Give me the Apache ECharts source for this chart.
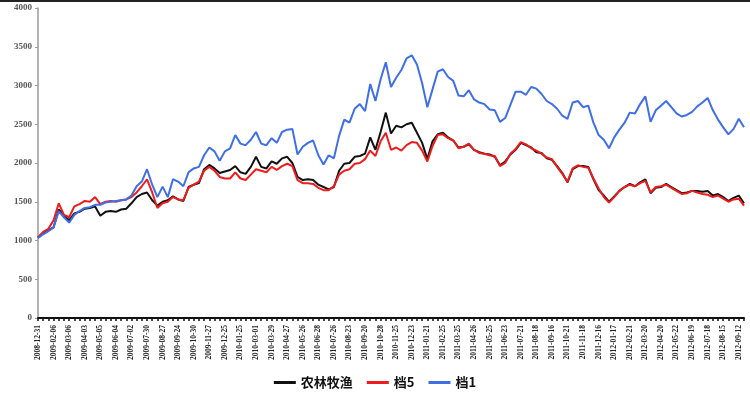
<!DOCTYPE html>
<html>
<head>
<meta charset="utf-8">
<title>农林牧渔 档5 档1</title>
<script src="https://cdn.jsdelivr.net/npm/echarts@6/dist/echarts.min.js"></script>
<style>
    html, body { margin: 0; padding: 0; background: #fff; }
    #main { width: 750px; height: 399px; }
</style>
</head>
<body>
<div id="main"></div>
<script>
// x轴刻度日期（每个刻度之间有两个中间点）
const tickDates = [
    '2008-12-31', '2009-02-06', '2009-03-06', '2009-04-03', '2009-05-05', '2009-06-04',
    '2009-07-02', '2009-07-30', '2009-08-27', '2009-09-24', '2009-10-30', '2009-11-27',
    '2009-12-25', '2010-01-25', '2010-03-01', '2010-03-29', '2010-04-27', '2010-05-26',
    '2010-06-28', '2010-07-26', '2010-08-23', '2010-09-20', '2010-10-28', '2010-11-25',
    '2010-12-23', '2011-01-21', '2011-02-25', '2011-03-25', '2011-04-26', '2011-05-25',
    '2011-06-23', '2011-07-21', '2011-08-18', '2011-09-16', '2011-10-21', '2011-11-18',
    '2011-12-16', '2012-01-17', '2012-02-21', '2012-03-20', '2012-04-20', '2012-05-22',
    '2012-06-19', '2012-07-18', '2012-08-15', '2012-09-12'
]

const yTicks = [0, 500, 1000, 1500, 2000, 2500, 3000, 3500, 4000]

// 农林牧渔
const nlmy = [
    1040, 1100, 1130, 1170, 1400, 1320, 1260, 1350, 1370, 1410, 1420, 1440,
    1320, 1370, 1380, 1370, 1400, 1410, 1480, 1560, 1600, 1620, 1520, 1450,
    1500, 1520, 1570, 1530, 1510, 1690, 1720, 1740, 1920, 1975, 1930, 1870,
    1890, 1910, 1960, 1880, 1860, 1950, 2080, 1950, 1930, 2020, 1990, 2060,
    2080, 2000, 1820, 1780, 1790, 1780, 1720, 1690, 1660, 1690, 1900, 1990,
    2000, 2080, 2090, 2120, 2330, 2170, 2400, 2650, 2380, 2480, 2460, 2500,
    2520, 2390, 2260, 2050, 2280, 2370, 2390, 2330, 2290, 2200, 2210, 2240,
    2170, 2140, 2120, 2110, 2080, 1970, 2020, 2110, 2170, 2260, 2230, 2200,
    2140, 2130, 2060, 2040, 1960, 1870, 1750, 1920, 1960, 1960, 1950, 1790,
    1650, 1580, 1500, 1570, 1640, 1690, 1730, 1700, 1750, 1790, 1610, 1680,
    1690, 1730, 1690, 1650, 1610, 1620, 1640, 1640, 1630, 1640, 1580, 1600,
    1560, 1510, 1550, 1580, 1480
]

// 档5
const dang5 = [
    1040, 1110, 1150, 1260, 1480, 1330, 1300, 1440, 1470, 1510, 1500, 1560,
    1470, 1500, 1510, 1500, 1520, 1530, 1560, 1620, 1700, 1790, 1620, 1420,
    1480, 1500, 1560, 1530, 1520, 1680, 1720, 1760, 1900, 1950, 1900, 1820,
    1800, 1800, 1880, 1800, 1780, 1850, 1920, 1900, 1880, 1950, 1910, 1960,
    1990, 1960, 1780, 1740, 1740, 1730, 1680, 1650, 1650, 1700, 1850, 1900,
    1920, 1990, 2000, 2050, 2160, 2090, 2280, 2390, 2170, 2200, 2160, 2230,
    2270, 2260, 2160, 2020, 2220, 2360, 2370, 2320, 2290, 2190, 2210, 2250,
    2170, 2130, 2120, 2100, 2090, 1960, 2000, 2120, 2180, 2270, 2240, 2190,
    2160, 2120, 2070, 2050, 1950, 1860, 1760, 1930, 1970, 1950, 1940, 1800,
    1670, 1560, 1490, 1560, 1640, 1690, 1720, 1700, 1740, 1770, 1620, 1690,
    1700, 1720, 1680, 1640, 1600, 1610, 1640, 1620, 1600, 1590, 1560, 1580,
    1540, 1500, 1530, 1540, 1450
]

// 档1
const dang1 = [
    1030, 1080, 1120, 1170, 1380, 1300, 1230, 1330, 1380, 1420, 1430, 1460,
    1460, 1490, 1500, 1510, 1520, 1530, 1580, 1700, 1760, 1920, 1720, 1560,
    1695, 1560, 1790, 1760, 1700, 1880, 1930, 1950, 2100, 2200, 2150, 2030,
    2150, 2190, 2360, 2250, 2230, 2300, 2400, 2250, 2230, 2320, 2260, 2400,
    2430, 2440, 2110, 2210, 2260, 2290, 2100, 1980, 2100, 2060, 2350, 2560,
    2520, 2700, 2760, 2670, 3020, 2800, 3080, 3300, 2980, 3100, 3200, 3350,
    3390, 3270, 3030, 2720, 2950, 3180, 3210, 3110, 3060, 2870, 2860, 2940,
    2820, 2780, 2760, 2690, 2680, 2530, 2580, 2750, 2920, 2920, 2880, 2980,
    2960, 2890, 2800, 2760, 2700, 2610, 2570, 2780, 2800, 2720, 2740, 2520,
    2360, 2300, 2190, 2330, 2430, 2520, 2650, 2640, 2760, 2860, 2530, 2680,
    2740, 2800, 2720, 2640, 2600, 2620, 2660, 2730, 2780, 2840, 2680, 2560,
    2460, 2370, 2440, 2570, 2460
]

const seriesNames = ['农林牧渔', '档5', '档1']
const seriesColors = ['#111111', '#ee1c1c', '#3f6fe6']

// 每两个刻度之间插入两个无标签的点，末尾多一个点
const categories = []
tickDates.forEach((d, i) => {
    categories.push(d)
    if (i < tickDates.length - 1) {
        categories.push('', '')
    }
})
categories.push('')

const chart = echarts.init(document.getElementById('main'), null, { renderer: 'canvas' })
chart.setOption({
    animation: false,
    backgroundColor: '#ffffff',
    graphic: [{
        type: 'rect',
        left: 0,
        top: 0,
        shape: { width: 750, height: 2 },
        style: { fill: '#222' }
    }],
    grid: { left: 38, right: 6, top: 8, bottom: 81 },
    legend: {
        data: seriesNames,
        left: 'center',
        top: 371,
        icon: 'rect',
        itemWidth: 22,
        itemHeight: 3,
        itemGap: 14,
        textStyle: {
            fontFamily: 'Noto Sans CJK SC',
            fontSize: 13,
            fontWeight: 'bold',
            color: '#111'
        }
    },
    xAxis: {
        type: 'category',
        boundaryGap: false,
        data: categories,
        axisLine: { lineStyle: { color: '#111', width: 2 } },
        axisTick: { show: true, interval: 0, length: 3, lineStyle: { color: '#111', width: 1.5 } },
        axisLabel: {
            interval: 2,
            rotate: 90,
            margin: 7,
            fontFamily: 'Liberation Serif',
            fontWeight: 'bold',
            fontSize: 7.5,
            color: '#222'
        },
        splitLine: { show: false }
    },
    yAxis: {
        type: 'value',
        min: yTicks[0],
        max: yTicks[yTicks.length - 1],
        interval: yTicks[1] - yTicks[0],
        axisLine: { show: true, lineStyle: { color: '#999', width: 1.5 } },
        axisTick: { show: true, length: 3, lineStyle: { color: '#999' } },
        axisLabel: {
            margin: 6,
            fontFamily: 'Liberation Serif',
            fontWeight: 'bold',
            fontSize: 9,
            color: '#555',
            formatter: v => String(v)
        },
        splitLine: { show: false }
    },
    series: [nlmy, dang5, dang1].map((data, i) => ({
        name: seriesNames[i],
        type: 'line',
        data: data,
        showSymbol: false,
        symbol: 'none',
        color: seriesColors[i],
        lineStyle: { width: 2, color: seriesColors[i] }
    }))
})
</script>
</body>
</html>
